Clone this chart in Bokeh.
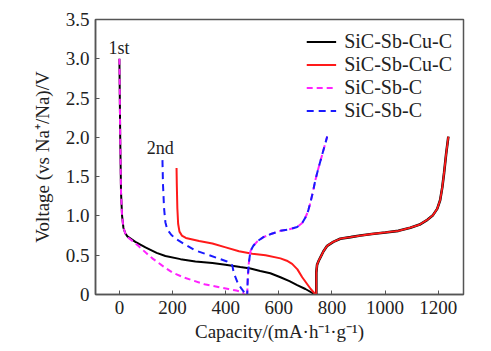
from bokeh.plotting import figure
from bokeh.models import Legend, LegendItem, Label, FixedTicker, CustomJSTickFormatter, Range1d
from bokeh.embed import file_html
from bokeh.resources import INLINE

# SiC-Sb-Cu-C, 1st discharge
cu_dis1_c = [0, 3, 6, 10, 15, 22, 30, 60, 98, 140, 173, 230, 286, 350, 399, 455, 493, 530, 568, 606, 640, 669, 700, 737]
cu_dis1_v = [3.0, 2.0, 1.3, 1.0, 0.85, 0.78, 0.74, 0.67, 0.60, 0.53, 0.49, 0.45, 0.42, 0.40, 0.38, 0.35, 0.33, 0.30, 0.27, 0.22, 0.17, 0.12, 0.07, 0.0]
# SiC-Sb-Cu-C, 2nd discharge
cu_dis2_c = [215, 216, 218, 221, 226, 235, 250, 300, 350, 400, 450, 500, 550, 606, 630, 650, 670, 688, 705, 720, 738]
cu_dis2_v = [1.61, 1.4, 1.1, 0.9, 0.8, 0.75, 0.72, 0.68, 0.65, 0.60, 0.55, 0.52, 0.50, 0.46, 0.43, 0.39, 0.32, 0.22, 0.14, 0.07, 0.0]
# SiC-Sb-Cu-C, charge
cu_chg_c = [741, 741, 744, 750, 756, 768, 782, 805, 831, 870, 907, 950, 1001, 1050, 1095, 1130, 1159, 1180, 1196, 1207, 1215, 1222, 1230, 1238]
cu_chg_v = [0.0, 0.28, 0.38, 0.43, 0.47, 0.55, 0.62, 0.67, 0.71, 0.73, 0.75, 0.77, 0.79, 0.81, 0.85, 0.89, 0.95, 1.01, 1.09, 1.2, 1.36, 1.55, 1.8, 2.01]

# SiC-Sb-C, 1st discharge
sb_dis1_c = [0, 3, 6, 10, 15, 22, 30, 50, 71, 100, 124, 160, 199, 240, 275, 320, 350, 410, 440, 463, 470]
sb_dis1_v = [3.0, 2.0, 1.3, 1.0, 0.85, 0.78, 0.73, 0.68, 0.62, 0.53, 0.46, 0.37, 0.28, 0.22, 0.18, 0.13, 0.11, 0.07, 0.05, 0.03, 0.0]
# SiC-Sb-C, 2nd discharge
sb_dis2_c = [162, 164, 168, 173, 180, 195, 211, 250, 286, 330, 372, 405, 425, 430, 445, 458, 467, 475]
sb_dis2_v = [1.71, 1.4, 1.1, 0.92, 0.83, 0.76, 0.71, 0.63, 0.56, 0.51, 0.46, 0.42, 0.37, 0.28, 0.15, 0.08, 0.04, 0.0]
# SiC-Sb-C, charge
sb_chg_c = [481, 483, 487, 493, 504, 520, 542, 570, 606, 640, 669, 688, 700, 710, 718, 728, 737, 750, 764, 782]
sb_chg_v = [0.0, 0.2, 0.4, 0.55, 0.62, 0.68, 0.73, 0.77, 0.81, 0.83, 0.86, 0.91, 0.98, 1.06, 1.16, 1.3, 1.45, 1.62, 1.79, 2.01]

x_ticks = [0, 200, 400, 600, 800, 1000, 1200]
y_ticks = [0, 0.5, 1.0, 1.5, 2.0, 2.5, 3.0, 3.5]
series_names = ["SiC-Sb-Cu-C", "SiC-Sb-Cu-C", "SiC-Sb-C", "SiC-Sb-C"]

FONT = "Liberation Serif"

p = figure(width=491, height=351, output_backend="svg", toolbar_location=None,
           x_range=Range1d(-90, 1295), y_range=Range1d(0, 3.5),
           min_border_left=95, min_border_right=28, min_border_top=19, min_border_bottom=57)
p.grid.visible = False
p.background_fill_color = "white"
p.border_fill_color = "white"
p.outline_line_color = "#555555"
p.outline_line_width = 1.5

black_d = p.line(cu_dis1_c, cu_dis1_v, color="black", line_width=2)
black_c = p.line(cu_chg_c, cu_chg_v, color="black", line_width=2.6)
red_d = p.line(cu_dis2_c, cu_dis2_v, color="#ff1a1a", line_width=2)
red_c = p.line(cu_chg_c, cu_chg_v, color="#ff1a1a", line_width=1.8)
mag_d = p.line(sb_dis1_c, sb_dis1_v, color="#ff22ff", line_width=2, line_dash="6 4")
mag_c = p.line(sb_chg_c, sb_chg_v, color="#ff22ff", line_width=2, line_dash="6 4")
blue_d = p.line(sb_dis2_c, sb_dis2_v, color="#1a1aff", line_width=2, line_dash="7 5")
blue_c = p.line(sb_chg_c, sb_chg_v, color="#1a1aff", line_width=2, line_dash="7 5", line_dash_offset=3)

legend = Legend(items=[
    LegendItem(label=series_names[0], renderers=[black_d]),
    LegendItem(label=series_names[1], renderers=[red_d]),
    LegendItem(label=series_names[2], renderers=[mag_d]),
    LegendItem(label=series_names[3], renderers=[blue_d]),
], location="top_right")
legend.background_fill_alpha = 0
legend.border_line_alpha = 0
legend.label_text_font = FONT
legend.label_text_font_size = "20px"
legend.label_text_color = "#222222"
legend.glyph_width = 30
legend.glyph_height = 21
legend.label_height = 21
legend.label_standoff = 8
legend.spacing = 0
legend.padding = 0
legend.margin = 11
p.add_layout(legend)

for ax in (p.xaxis[0], p.yaxis[0]):
    ax.axis_line_color = "#555555"
    ax.axis_line_width = 1.5
    ax.major_tick_in = 4
    ax.major_tick_out = 0
    ax.major_tick_line_color = "#555555"
    ax.minor_tick_line_color = None
    ax.major_label_text_font = FONT
    ax.major_label_text_font_size = "19px"
    ax.major_label_text_color = "#222222"
    ax.axis_label_text_font = FONT
    ax.axis_label_text_font_size = "19px"
    ax.axis_label_text_font_style = "normal"
    ax.axis_label_text_color = "#222222"

p.xaxis.ticker = FixedTicker(ticks=x_ticks)
p.yaxis.ticker = FixedTicker(ticks=y_ticks)
p.yaxis.formatter = CustomJSTickFormatter(code="return tick == 0 ? '0' : tick.toFixed(1);")
p.xaxis.axis_label = "Capacity/(mA\u00b7h\u207b\u00b9\u00b7g\u207b\u00b9)"
p.yaxis.axis_label = "Voltage (vs Na\u207a/Na)/V"
p.xaxis.major_label_standoff = 6
p.yaxis.major_label_standoff = 6
p.xaxis.axis_label_standoff = 4
p.yaxis.axis_label_standoff = 10

p.add_layout(Label(x=-2, y=3.14, text="1st", text_font=FONT, text_font_size="18px",
                   text_align="center", text_baseline="middle", text_color="#222222"))
p.add_layout(Label(x=154, y=1.86, text="2nd", text_font=FONT, text_font_size="18px",
                   text_align="center", text_baseline="middle", text_color="#222222"))

open("out.html", "w").write(file_html(p, INLINE))
